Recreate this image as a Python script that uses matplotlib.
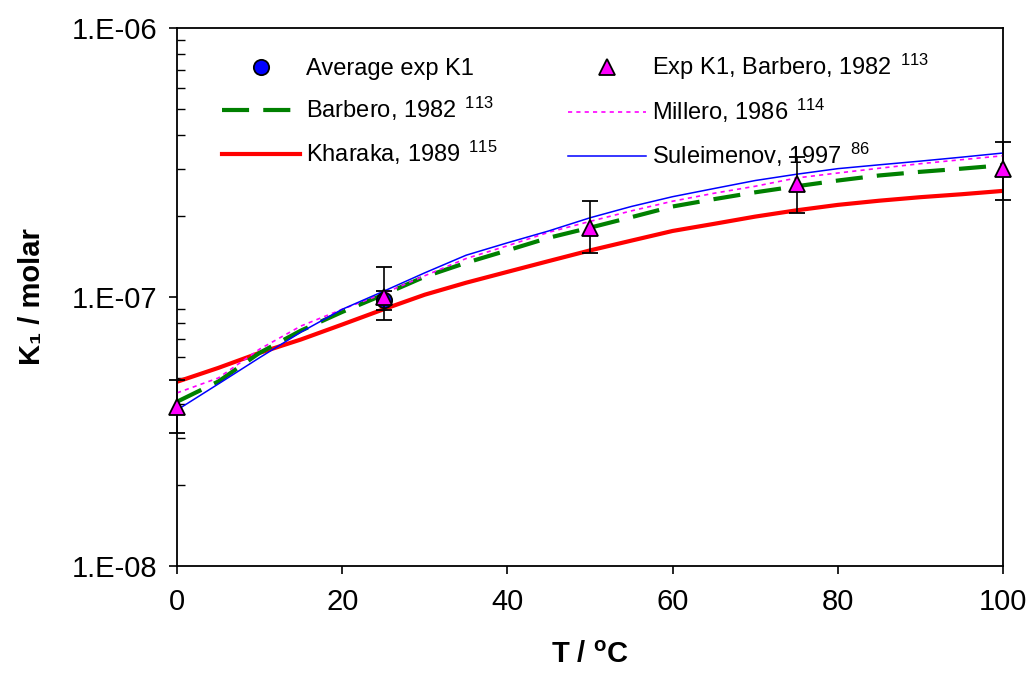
import matplotlib
matplotlib.use("Agg")
import matplotlib.pyplot as plt
from matplotlib.lines import Line2D

plt.rcParams["font.family"] = ["Liberation Sans", "DejaVu Sans"]
plt.rcParams["mathtext.fontset"] = "custom"
plt.rcParams["mathtext.rm"] = "Liberation Sans"
plt.rcParams["mathtext.it"] = "Liberation Sans:italic"
plt.rcParams["mathtext.bf"] = "Liberation Sans:bold"

# Model curves, temperature in °C, K1 in molar
T_model = [0, 5, 10, 15, 20, 25, 30, 35, 40, 45, 50, 55, 60, 65, 70, 75, 80, 85, 90, 95, 100]
K_barbero = [4.08e-8, 4.85e-8, 6.2e-8, 7.5e-8, 8.8e-8, 1.02e-7, 1.19e-7, 1.34e-7, 1.49e-7,
             1.66e-7, 1.81e-7, 1.98e-7, 2.17e-7, 2.31e-7, 2.45e-7, 2.58e-7, 2.71e-7, 2.83e-7,
             2.92e-7, 3.0e-7, 3.09e-7]
K_millero = [4.40e-8, 5.0e-8, 6.4e-8, 7.8e-8, 9.0e-8, 1.03e-7, 1.20e-7, 1.39e-7, 1.55e-7,
             1.74e-7, 1.91e-7, 2.09e-7, 2.27e-7, 2.43e-7, 2.58e-7, 2.77e-7, 2.89e-7, 3.01e-7,
             3.13e-7, 3.24e-7, 3.35e-7]
K_kharaka = [4.84e-8, 5.45e-8, 6.2e-8, 6.95e-8, 7.9e-8, 9.0e-8, 1.02e-7, 1.13e-7, 1.24e-7,
             1.36e-7, 1.49e-7, 1.62e-7, 1.76e-7, 1.87e-7, 1.99e-7, 2.10e-7, 2.20e-7, 2.28e-7,
             2.35e-7, 2.41e-7, 2.48e-7]
K_suleimenov = [3.80e-8, 4.75e-8, 5.95e-8, 7.4e-8, 9.0e-8, 1.05e-7, 1.23e-7, 1.43e-7, 1.59e-7,
                1.76e-7, 1.97e-7, 2.17e-7, 2.36e-7, 2.53e-7, 2.71e-7, 2.86e-7, 3.00e-7, 3.10e-7,
                3.20e-7, 3.31e-7, 3.43e-7]

# Experimental data
T_avg = [25]
K_avg = [9.75e-8]
K_avg_lo = [8.95e-8]
K_avg_hi = [1.05e-7]

T_exp = [0, 25, 50, 75, 100]
K_exp = [3.9e-8, 1.0e-7, 1.81e-7, 2.62e-7, 3.0e-7]
K_exp_lo = [3.12e-8, 8.2e-8, 1.46e-7, 2.05e-7, 2.29e-7]
K_exp_hi = [4.91e-8, 1.29e-7, 2.28e-7, 3.32e-7, 3.77e-7]

x_ticks = [0, 20, 40, 60, 80, 100]
y_ticks = [1e-8, 1e-7, 1e-6]
y_tick_labels = ["1.E-08", "1.E-07", "1.E-06"]

fig = plt.figure(figsize=(10.31, 6.8), dpi=100)
ax = fig.add_axes([177 / 1031, 1 - 566 / 680, 826 / 1031, 538 / 680])

ax.plot(T_model, K_barbero, color="#008000", lw=3, dashes=(6.5, 3.4), zorder=3)
ax.plot(T_model, K_millero, color="#ff00ff", lw=1.2, dashes=(2.5, 2.5), zorder=3)
ax.plot(T_model, K_kharaka, color="#ff0000", lw=3, zorder=2)
ax.plot(T_model, K_suleimenov, color="#0000ff", lw=1.1, zorder=4)

avg_err = [[k - lo for k, lo in zip(K_avg, K_avg_lo)], [hi - k for k, hi in zip(K_avg, K_avg_hi)]]
exp_err = [[k - lo for k, lo in zip(K_exp, K_exp_lo)], [hi - k for k, hi in zip(K_exp, K_exp_hi)]]

ax.errorbar(T_avg, K_avg, yerr=avg_err, fmt="o", color="black", ecolor="black",
            elinewidth=1.2, capsize=5.5, capthick=1.2, ms=11, mfc="#0000ff", mec="black",
            mew=1.3, zorder=5, clip_on=False)
ax.errorbar(T_exp, K_exp, yerr=exp_err, fmt="^", color="black", ecolor="black",
            elinewidth=1.2, capsize=5.5, capthick=1.2, ms=11.5, mfc="#ff00ff", mec="black",
            mew=1.3, zorder=6, clip_on=False)

ax.set_yscale("log")
ax.set_xlim(0, 100)
ax.set_ylim(1e-8, 1e-6)
ax.set_xticks(x_ticks)
ax.set_yticks(y_ticks)
ax.set_yticklabels(y_tick_labels)
ax.tick_params(axis="both", which="major", direction="out", length=6, width=1.2,
               labelsize=21, pad=8)
ax.tick_params(axis="x", which="major", pad=10)
ax.tick_params(axis="y", which="minor", direction="in", length=6, width=1.0)
for s in ax.spines.values():
    s.set_linewidth(1.3)

ax.set_xlabel("T / $\\mathbf{^{o}}$C", fontsize=21, fontweight="bold", labelpad=18)
ax.set_ylabel("K\u2081 / molar", fontsize=21, fontweight="bold", labelpad=19)

handles = [
    Line2D([], [], ls="none", marker="o", ms=11, mfc="#0000ff", mec="black", mew=1.3),
    Line2D([], [], color="#008000", lw=3, dashes=(6.5, 3.4)),
    Line2D([], [], color="#ff0000", lw=3),
    Line2D([], [], ls="none", marker="^", ms=11.5, mfc="#ff00ff", mec="black", mew=1.3),
    Line2D([], [], color="#ff00ff", lw=1.2, dashes=(2.5, 2.5)),
    Line2D([], [], color="#0000ff", lw=1.1),
]
labels = [
    "Average exp K1",
    "Barbero, 1982 $^{\\,113}$",
    "Kharaka, 1989 $^{\\,115}$",
    "Exp K1, Barbero, 1982 $^{\\,113}$",
    "Millero, 1986 $^{\\,114}$",
    "Suleimenov, 1997 $^{\\,86}$",
]
ax.legend(handles, labels, ncol=2, loc="upper left", bbox_to_anchor=(0.0545, 0.956),
          frameon=False, fontsize=17, handlelength=3.3, handletextpad=0.25,
          columnspacing=3.0, labelspacing=0.65, borderpad=0, borderaxespad=0)

fig.savefig("out.png", dpi=100)
